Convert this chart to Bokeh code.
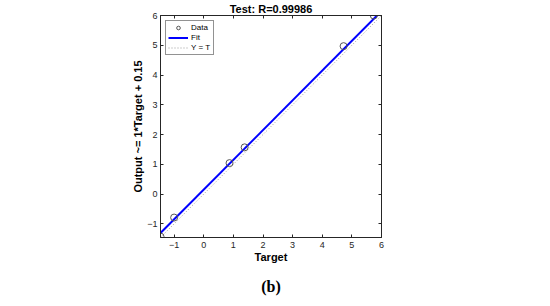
from bokeh.plotting import figure
from bokeh.models import Range1d, LinearAxis, FixedTicker, Legend, LegendItem, Title
from bokeh.embed import file_html
from bokeh.resources import INLINE

# Data
target = [-1.46, -1.0, 0.87, 1.38, 4.72, 5.74]
output = [-1.43, -0.79, 1.04, 1.57, 4.97, 6.0]
fit_slope = 1.0
fit_intercept = 0.15
axis_min = -1.46
axis_max = 6.0
ticks = [-1, 0, 1, 2, 3, 4, 5, 6]
title_text = "Test: R=0.99986"
ylabel_text = "Output ~= 1*Target + 0.15"
xlabel_text = "Target"
panel_label = "(b)"

FONT = "Liberation Sans"
TXT = "#262626"

p = figure(width=550, height=306, output_backend="svg", toolbar_location=None,
           x_range=Range1d(axis_min, axis_max), y_range=Range1d(axis_min, axis_max),
           min_border_left=160, min_border_right=169, min_border_top=15, min_border_bottom=69,
           title=title_text)
p.title.align = "center"
p.title.text_font = FONT
p.title.text_font_size = "11px"
p.title.text_font_style = "bold"
p.title.text_color = "#000000"
p.title.offset = -2
p.title.standoff = 1

p.xgrid.visible = False
p.ygrid.visible = False
p.outline_line_color = TXT
p.outline_line_width = 1

for ax in (p.xaxis[0], p.yaxis[0]):
    ax.ticker = FixedTicker(ticks=ticks)
    ax.major_tick_in = 3
    ax.major_tick_out = 0
    ax.minor_tick_line_color = None
    ax.axis_line_color = TXT
    ax.major_tick_line_color = TXT
    ax.major_label_text_font = FONT
    ax.major_label_text_font_size = "9px"
    ax.major_label_text_color = TXT
    ax.axis_label_text_font = FONT
    ax.axis_label_text_font_size = "11px"
    ax.axis_label_text_font_style = "bold"
    ax.axis_label_text_color = "#000000"
    ax.major_label_standoff = 4
    ax.axis_label_standoff = 0

p.xaxis[0].axis_label = xlabel_text
p.yaxis[0].axis_label = ylabel_text
p.yaxis[0].major_label_standoff = 3

for loc in ("above", "right"):
    a = LinearAxis(ticker=FixedTicker(ticks=ticks), major_label_text_color=None,
                   major_tick_in=3, major_tick_out=0, minor_tick_line_color=None,
                   axis_line_color=TXT, major_tick_line_color=TXT, major_label_standoff=0)
    p.add_layout(a, loc)

# Y = T line
r_yt = p.line([axis_min, axis_max], [axis_min, axis_max], line_color="#9a9a9a",
              line_dash="1 2", line_width=1)
# Fit line
fx = [axis_min, (axis_max - fit_intercept) / fit_slope]
fy = [fit_slope * v + fit_intercept for v in fx]
r_fit = p.line(fx, fy, line_color="#0000ff", line_width=2)
# Data
r_data = p.scatter(target, output, marker="circle", size=7, fill_color=None,
                   line_color="#555555", line_width=1)

legend = Legend(items=[LegendItem(label="Data", renderers=[r_data]),
                       LegendItem(label="Fit", renderers=[r_fit]),
                       LegendItem(label="Y = T", renderers=[r_yt])],
                location="top_left")
legend.label_text_font = FONT
legend.label_text_font_size = "8px"
legend.label_text_color = "#000000"
legend.label_height = 8
legend.glyph_height = 9
legend.glyph_width = 20
legend.spacing = 1
legend.padding = 2
legend.margin = 5
legend.label_standoff = 3
legend.border_line_color = TXT
legend.border_line_width = 1
legend.background_fill_alpha = 1
p.add_layout(legend)

p.add_layout(Title(text=panel_label, align="center", text_font="Liberation Serif",
                   text_font_size="16px", text_font_style="bold", text_color="#000000",
                   standoff=21, offset=-2), "below")

open("out.html", "w").write(file_html(p, INLINE))
